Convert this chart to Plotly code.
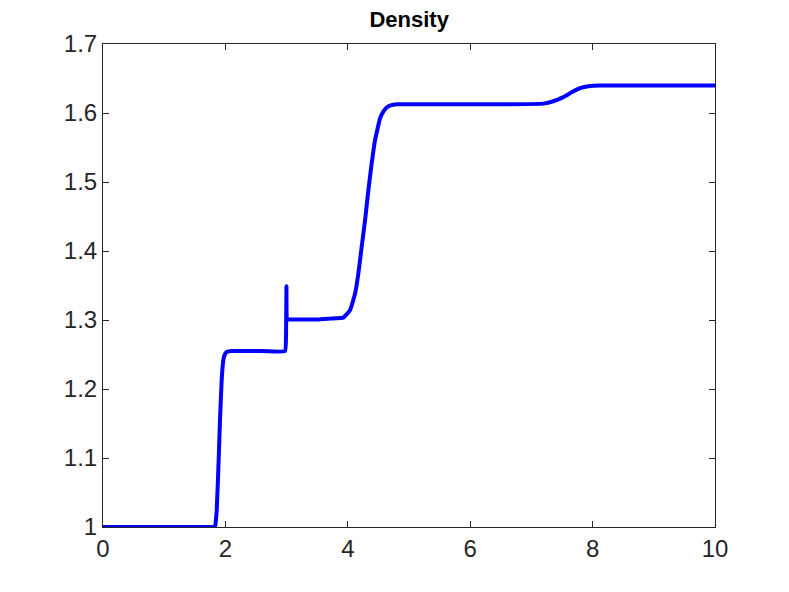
import plotly.graph_objects as go

x_vals = [0, 1.0, 1.776, 1.830, 1.845, 1.858, 1.884, 1.912, 1.939, 1.966, 1.99, 2.021, 2.103, 2.5, 2.974,
          2.99, 2.998, 3.005, 3.03, 3.5, 3.709, 3.927, 4.036, 4.118, 4.172, 4.227, 4.281, 4.336,
          4.390, 4.444, 4.526, 4.58, 4.635, 4.70, 4.799, 5.5, 6.487, 7.195, 7.358, 7.521,
          7.658, 7.794, 7.958, 8.121, 9.0, 10.0]
density = [1.0, 1.0, 1.0, 1.0, 1.01, 1.024, 1.082, 1.155, 1.213, 1.242, 1.250, 1.2536, 1.2551, 1.2551, 1.2551,
           1.275, 1.349, 1.30, 1.3006, 1.3006, 1.302, 1.3035, 1.314, 1.338, 1.367, 1.406, 1.444, 1.488,
           1.527, 1.560, 1.592, 1.602, 1.608, 1.611, 1.6126, 1.6126, 1.6126, 1.6136, 1.617, 1.623,
           1.630, 1.636, 1.639, 1.6397, 1.6397, 1.6397]

x_ticks = [0, 2, 4, 6, 8, 10]
x_tick_labels = ["0", "2", "4", "6", "8", "10"]
y_ticks = [1.0, 1.1, 1.2, 1.3, 1.4, 1.5, 1.6, 1.7]
y_tick_labels = ["1", "1.1", "1.2", "1.3", "1.4", "1.5", "1.6", "1.7"]

fig = go.Figure()
fig.add_trace(go.Scatter(x=x_vals, y=density, mode="lines",
                         line=dict(color="#0000FF", width=4, shape="spline", smoothing=0.3),
                         showlegend=False))

axis_common = dict(showgrid=False, zeroline=False, showline=True, linecolor="#262626",
                   linewidth=1, mirror="ticks", ticks="inside", ticklen=6, tickcolor="#262626",
                   tickfont=dict(family="Liberation Sans, Arial, sans-serif", size=24, color="#262626"))

fig.update_layout(
    width=781, height=584,
    paper_bgcolor="white", plot_bgcolor="white",
    margin=dict(l=95, r=74, t=36, b=65),
    title=dict(text="<b>Density</b>", x=401.2 / 781, xanchor="center",
               y=1 - 11 / 584, yanchor="middle",
               font=dict(family="Liberation Sans, Arial, sans-serif", size=22, color="black")),
    xaxis=dict(range=[0, 10], tickvals=x_ticks, ticktext=x_tick_labels, **axis_common),
    yaxis=dict(range=[1, 1.7], tickvals=y_ticks, ticktext=y_tick_labels, **axis_common),
)

fig.write_html("out.html")
